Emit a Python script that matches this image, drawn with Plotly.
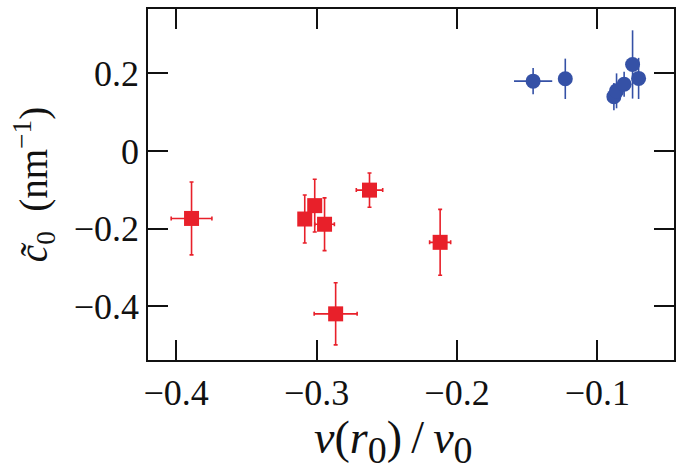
import plotly.graph_objects as go

# Red squares
red_x = [-0.389, -0.3084, -0.3013, -0.2943, -0.2864, -0.2623, -0.212]
red_y = [-0.174, -0.1755, -0.141, -0.189, -0.42, -0.101, -0.2356]
red_ex = [0.0145, 0.003, 0.0024, 0.007, 0.0153, 0.0094, 0.0075]
red_ey = [0.094, 0.062, 0.068, 0.068, 0.08, 0.044, 0.085]

# Blue circles
blue_x = [-0.1458, -0.1229, -0.0883, -0.0864, -0.0810, -0.075, -0.0707]
blue_y = [0.180, 0.186, 0.140, 0.155, 0.172, 0.223, 0.187]
blue_ex = [0.0136, 0.002, 0.001, 0.001, 0.001, 0.001, 0.001]
blue_ey = [0.034, 0.052, 0.035, 0.045, 0.032, 0.088, 0.053]

x_ticks = [-0.4, -0.3, -0.2, -0.1]
y_ticks = [-0.4, -0.2, 0, 0.2]

x_title = ("<i>v</i>(<i>r</i><sub><span style=\"font-size:38px\">0</span></sub>)"
           "\u2009/\u2009<i>v</i><sub><span style=\"font-size:38px\">0</span></sub>")
y_title = "<i>c\u0303</i><sub>0</sub>  (nm<sup>\u22121</sup>)"

RED = "#e8202a"
BLUE = "#3551a6"

fig = go.Figure()
fig.add_trace(go.Scatter(
    x=red_x, y=red_y, mode="markers",
    marker=dict(symbol="square", size=15, color=RED),
    error_x=dict(type="data", array=red_ex, color=RED, thickness=1.6, width=2),
    error_y=dict(type="data", array=red_ey, color=RED, thickness=1.6, width=2),
    showlegend=False,
))
fig.add_trace(go.Scatter(
    x=blue_x, y=blue_y, mode="markers",
    marker=dict(symbol="circle", size=15, color=BLUE),
    error_x=dict(type="data", array=blue_ex, color=BLUE, thickness=1.6, width=0),
    error_y=dict(type="data", array=blue_ey, color=BLUE, thickness=1.6, width=0),
    showlegend=False,
))

font = dict(family="Liberation Serif", size=36, color="#111")

fig.update_layout(
    width=683, height=470,
    margin=dict(l=148, r=9, t=9, b=110),
    paper_bgcolor="white", plot_bgcolor="white",
    font=font,
    xaxis=dict(
        range=[-0.42, -0.0455], tickvals=x_ticks, automargin=False,
        ticks="inside", ticklen=20, tickwidth=2, tickcolor="#111",
        showline=True, linecolor="#111", linewidth=1.6, mirror="ticks",
        showgrid=False, zeroline=False,
    ),
    yaxis=dict(
        range=[-0.539, 0.366], tickvals=y_ticks, automargin=False,
        ticks="inside", ticklen=20, tickwidth=2, tickcolor="#111",
        showline=True, linecolor="#111", linewidth=1.6, mirror="ticks",
        showgrid=False, zeroline=False,
        title=dict(text=y_title,
                   font=dict(family="Liberation Serif", size=39), standoff=14),
    ),
    annotations=[dict(
        text=x_title, xref="paper", yref="paper", x=0.466, y=-0.232,
        xanchor="center", yanchor="middle", showarrow=False,
        font=dict(family="Liberation Serif", size=46, color="#111"),
    )],
)

fig.write_html(
    "out.html",
    config={"displayModeBar": False},
    post_script="document.body.style.margin='0';document.body.style.overflow='hidden';",
)
